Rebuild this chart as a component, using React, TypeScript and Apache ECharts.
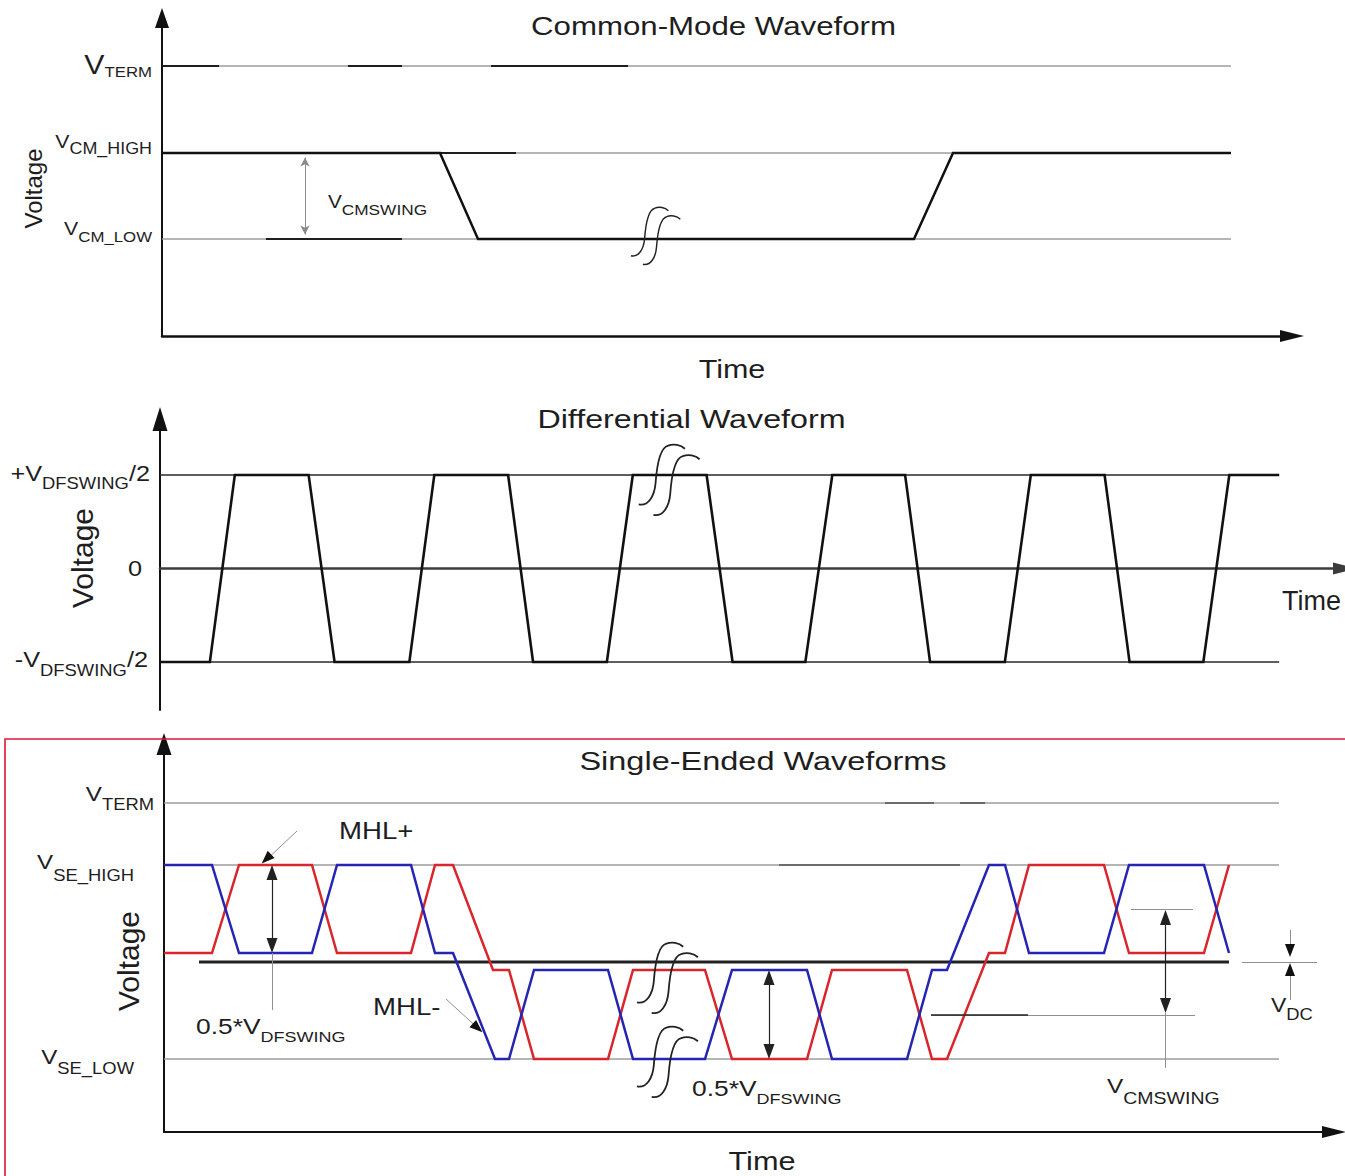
import React, { useEffect, useRef } from "react";
import * as echarts from "echarts";

const FONT = '"Liberation Sans", Arial, Helvetica, sans-serif';
const INK = "#1e1e1e";
const GRAY = "#9d9d9d";
const RED = "#d8262c";
const BLUE = "#2525b2";

// break mark ("two integral signs") used to show a time gap
const BREAK_PATH =
  "M -20 28 C -11 30 -5 20 -4 8 C -3 -6 0 -26 8 -28 C 13 -30 20 -29 24 -25 " +
  "M -6 38 C 3 40 9 30 10 18 C 11 4 14 -16 22 -18 C 27 -20 34 -19 38 -15";
echarts.graphic.registerShape("breakmark", echarts.graphic.extendPath(BREAK_PATH, {}));

// ======================= DATA =======================
// ---- Panel 1 : Common-Mode Waveform (time in UI, voltage in arbitrary V) ----
const cmLevelValues = [2.7, 1.83, 0.97];
const cmLevelSubs = ["TERM", "CM_HIGH", "CM_LOW"];
const cmRefEnd = 10.69;
const cmTime = [0, 2.78, 3.16, 7.52, 7.91, 10.69];
const cmVolt = [1.83, 1.83, 0.97, 0.97, 1.83, 1.83];
const cmDarkFrom = [0, 1.86, 3.29, 2.78, 1.04];
const cmDarkTo = [0.57, 2.4, 4.66, 3.54, 2.4];
const cmDarkAt = [2.7, 2.7, 2.7, 1.83, 0.97];
const cmSwingAt = 1.43;
const cmBreak = [4.86, 1.04];

// ---- Panel 2 : Differential Waveform ----
const dfLevelValues = [0.935, 0, -0.935];
const dfLabelMain = ["+V", "0", "-V"];
const dfLabelSub = ["DFSWING", "", "DFSWING"];
const dfLabelTail = ["/2", "", "/2"];
const dfRefEnd = 11.22;
const dfTime = [0, 0.5, 0.75, 1.49, 1.75, 2.5, 2.75, 3.49, 3.74, 4.48, 4.74, 5.48, 5.74, 6.47, 6.74, 7.47, 7.72, 8.47, 8.73, 9.47, 9.72, 10.46, 10.72, 11.22];
const dfVolt = [-0.935, -0.935, 0.935, 0.935, -0.935, -0.935, 0.935, 0.935, -0.935, -0.935, 0.935, 0.935, -0.935, -0.935, 0.935, 0.935, -0.935, -0.935, 0.935, 0.935, -0.935, -0.935, 0.935, 0.935];
const dfBreak = [5.01, 0.935];

// ---- Panel 3 : Single-Ended Waveforms ----
const seLevelValues = [3.29, 2.67, 0.73];
const seLevelSubs = ["TERM", "SE_HIGH", "SE_LOW"];
const seRefEnd = 11.15;
const seCmLevel = 1.7;
const seCmFrom = 0.35;
const seCmTo = 10.65;
const mhlPlusTime = [0, 0.48, 0.75, 1.48, 1.73, 2.47, 2.71, 2.89, 3.29, 3.45, 3.7, 4.44, 4.69, 5.41, 5.68, 6.43, 6.68, 7.43, 7.68, 7.83, 8.25, 8.41, 8.65, 9.4, 9.65, 10.4, 10.65];
const mhlPlusVolt = [1.79, 1.79, 2.67, 2.67, 1.79, 1.79, 2.67, 2.67, 1.62, 1.62, 0.73, 0.73, 1.62, 1.62, 0.73, 0.73, 1.62, 1.62, 0.73, 0.73, 1.79, 1.79, 2.67, 2.67, 1.79, 1.79, 2.67];
const mhlMinusTime = [0, 0.48, 0.75, 1.48, 1.73, 2.47, 2.71, 2.89, 3.31, 3.45, 3.7, 4.44, 4.69, 5.41, 5.68, 6.43, 6.68, 7.43, 7.68, 7.83, 8.25, 8.41, 8.65, 9.4, 9.65, 10.4, 10.65];
const mhlMinusVolt = [2.67, 2.67, 1.79, 1.79, 2.67, 2.67, 1.79, 1.79, 0.73, 0.73, 1.62, 1.62, 0.73, 0.73, 1.62, 1.62, 0.73, 0.73, 1.62, 1.62, 2.67, 2.67, 1.79, 1.79, 2.67, 2.67, 1.79];
const seDarkFrom = [6.15, 7.21, 7.96];
const seDarkTo = [7.96, 7.7, 8.21];
const seDarkAt = [2.67, 3.29, 3.29];
const seBreaks = [[4.94, 1.59], [4.94, 0.75]];

// ======================= LAYOUT =======================
type Seg = [[number, number], [number, number]];
const pair = (t: number[], v: number[]) => t.map((x, i) => [x, v[i]]);

const hline = (g: number, from: number, to: number, at: number, color: string, width: number, z = 2) => ({
  type: "line", xAxisIndex: g, yAxisIndex: g, data: [[from, at], [to, at]],
  symbol: "none", silent: true, z, lineStyle: { color, width }, emphasis: { disabled: true },
});
const wave = (g: number, data: number[][], color: string, width: number, z = 3) => ({
  type: "line", xAxisIndex: g, yAxisIndex: g, data, symbol: "none", silent: true, z,
  lineStyle: { color, width, join: "miter" }, emphasis: { disabled: true },
});
const marks = (g: number, segs: Seg[], color: string, width: number, symbol: string[], symbolSize: number[]) => ({
  type: "line", xAxisIndex: g, yAxisIndex: g, data: [[0, 0]], symbol: "none", silent: true,
  lineStyle: { width: 0 }, z: 4,
  markLine: {
    silent: true, symbol, symbolSize, animation: false,
    label: { show: false }, emphasis: { disabled: true },
    lineStyle: { color, width, type: "solid" },
    data: segs.map(([a, b]) => [{ coord: a }, { coord: b }]),
  },
});
const axis = (g: number, min: number, max: number, arrow: number[], color: string, width: number) => ({
  type: "value", gridIndex: g, min, max,
  axisLabel: { show: false }, axisTick: { show: false }, splitLine: { show: false },
  axisLine: { show: true, onZero: true, symbol: ["none", "triangle"], symbolSize: arrow, lineStyle: { color, width } },
});

function baseOption() {
  const series: any[] = [];
  // panel 1
  cmLevelValues.forEach((l) => series.push(hline(0, 0, cmRefEnd, l, GRAY, 1.5)));
  cmDarkFrom.forEach((f, i) => series.push(hline(0, f, cmDarkTo[i], cmDarkAt[i], INK, 1.8)));
  series.push(wave(0, pair(cmTime, cmVolt), "#111", 2.5));
  series.push(marks(0, [[[cmSwingAt, 1.785], [cmSwingAt, 1.015]]], "#8a8a8a", 1, ["arrow", "arrow"], [7, 9]));
  // panel 2
  [dfLevelValues[0], dfLevelValues[2]].forEach((l) => series.push(hline(1, 0, dfRefEnd, l, "#2a2a2a", 1.5)));
  series.push(wave(1, pair(dfTime, dfVolt), "#111", 2.6));
  // panel 3
  seLevelValues.forEach((l) => series.push(hline(2, 0, seRefEnd, l, GRAY, 1.5)));
  seDarkFrom.forEach((f, i) => series.push(hline(2, f, seDarkTo[i], seDarkAt[i], "#555", 1.6)));
  series.push(hline(2, seCmFrom, seCmTo, seCmLevel, "#222", 3));
  series.push(wave(2, pair(mhlPlusTime, mhlPlusVolt), RED, 2.5, 3));
  series.push(wave(2, pair(mhlMinusTime, mhlMinusVolt), BLUE, 2.5, 3));
  // double-headed measurement arrows
  series.push(marks(2, [
    [[1.08, 2.595], [1.08, 1.865]],
    [[6.05, 1.545], [6.05, 0.805]],
    [[10.015, 2.145], [10.015, 1.265]],
  ], "#222", 1.2, ["triangle", "triangle"], [11, 15]));
  // thin grey leader lines
  series.push(marks(2, [
    [[1.08, 1.79], [1.08, 1.22]],
    [[1.33, 3.01], [1.0, 2.70]],
    [[2.82, 1.33], [3.17, 1.01]],
    [[9.67, 2.23], [10.29, 2.23]],
    [[7.67, 1.17], [10.31, 1.17]],
    [[10.015, 1.19], [10.015, 0.64]],
    [[10.78, 1.7], [11.53, 1.7]],
    [[11.26, 2.02], [11.26, 1.815]],
    [[11.26, 1.32], [11.26, 1.625]],
  ], "#8f8f8f", 1, ["none", "none"], [1, 1]));
  series.push(marks(2, [[[7.67, 1.17], [8.64, 1.17]]], "#222", 1.5, ["none", "none"], [1, 1]));
  // single arrow heads
  series.push(marks(2, [
    [[1.067, 2.772], [1.024, 2.731]],
    [[3.106, 1.067], [3.136, 1.04]],
    [[11.26, 1.86], [11.26, 1.815]],
    [[11.26, 1.58], [11.26, 1.625]],
  ], "#111", 1, ["none", "triangle"], [10, 13]));

  return {
    animation: false,
    textStyle: { fontFamily: FONT },
    grid: [
      { left: 162, top: 18, width: 1130, height: 318 },
      { left: 160, top: 419, width: 1188, height: 291 },
      { left: 164, top: 744, width: 1170, height: 388 },
    ],
    xAxis: [
      axis(0, 0, 11.3, [12, 24], "#111", 2.5),
      axis(1, 0, 11.88, [12, 24], "#3c3c3c", 2.6),
      axis(2, 0, 11.7, [12, 24], "#111", 2.2),
    ],
    yAxis: [
      axis(0, 0, 3.18, [14, 20], "#111", 2),
      axis(1, -1.415, 1.495, [15, 24], "#111", 2),
      axis(2, 0, 3.88, [15, 22], "#111", 2),
    ],
    series,
  };
}

const txt = (x: number, y: number, s: string, size: number, o: any = {}) => ({
  type: "text", x, y, scaleX: o.sx ?? 1, rotation: o.rot ?? 0, z: 50, silent: true,
  style: { text: s, fontSize: size, fontFamily: FONT, fill: INK, align: o.align ?? "center", verticalAlign: "middle" },
});
const rtxt = (x: number, y: number, main: string, sub: string, tail: string, mSize: number, sSize: number, pad: number, align: string, sx: number) => ({
  type: "text", x, y, scaleX: sx, z: 50, silent: true,
  style: {
    text: `{m|${main}}` + (sub ? `{s|${sub}}` : "") + (tail ? `{m|${tail}}` : ""),
    align, verticalAlign: "middle", fill: INK, fontFamily: FONT, fontSize: mSize,
    rich: {
      m: { fontSize: mSize, fontFamily: FONT, fill: INK },
      s: { fontSize: sSize, fontFamily: FONT, fill: INK, padding: [pad, 0, 0, 0] },
    },
  },
});

// label layout (pixels) for level labels
const cmLabRight = 152, cmLabDy = [-1, -11.5, -11], cmLabM = [27, 19, 19], cmLabS = [15, 16, 15], cmLabPad = [14, 15, 18];
const dfLabRight = [150, 142, 148], dfLabDy = [-1.5, 0.5, -2];
const seLabRight = [154, 134, 134], seLabDy = [-8.5, -2.5, -1.5], seLabPad = [20, 25, 21];

function graphics(P: (g: number, t: number, v: number) => number[]) {
  const els: any[] = [];
  // Panel 1
  els.push(txt(713.5, 26.5, "Common-Mode Waveform", 25, { sx: 1.25 }));
  els.push(txt(732, 369, "Time", 25, { sx: 1.22 }));
  els.push(txt(33.5, 188.5, "Voltage", 24, { rot: Math.PI / 2 }));
  cmLevelValues.forEach((l, i) => {
    const y = P(0, 0, l)[1] + cmLabDy[i];
    els.push(rtxt(cmLabRight, y, "V", cmLevelSubs[i], "", cmLabM[i], cmLabS[i], cmLabPad[i], "right", 1.12));
  });
  els.push(rtxt(328, 201.5, "V", "CMSWING", "", 18, 15, 16, "left", 1.15));
  const b1 = P(0, cmBreak[0], cmBreak[1]);
  els.push({ type: "breakmark", x: b1[0], y: b1[1], scaleX: 0.85, scaleY: 0.85, z: 40, silent: true, style: { stroke: "#222", fill: "none", lineWidth: 1.7 } });

  // Panel 2
  els.push(txt(691.5, 419, "Differential Waveform", 25, { sx: 1.29 }));
  els.push(txt(1282, 601, "Time", 27, { sx: 1.0, align: "left" }));
  els.push(txt(82, 558, "Voltage", 30, { rot: Math.PI / 2 }));
  dfLevelValues.forEach((l, i) => {
    const y = P(1, 0, l)[1] + dfLabDy[i];
    els.push(rtxt(dfLabRight[i], y, dfLabelMain[i], dfLabelSub[i], dfLabelTail[i], 22, 16, 20, "right", 1.15));
  });
  const b2 = P(1, dfBreak[0], dfBreak[1]);
  els.push({ type: "breakmark", x: b2[0], y: b2[1], scaleX: 1.05, scaleY: 1.05, z: 40, silent: true, style: { stroke: "#222", fill: "none", lineWidth: 1.7 } });

  // Panel 3
  els.push({ type: "rect", z: 1, silent: true, shape: { x: 5, y: 739, width: 1400, height: 600 }, style: { fill: "none", stroke: "#e0163d", lineWidth: 1.6 } });
  els.push(txt(763, 761, "Single-Ended Waveforms", 25, { sx: 1.3 }));
  els.push(txt(762, 1161, "Time", 26, { sx: 1.18 }));
  els.push(txt(128.5, 961, "Voltage", 30, { rot: Math.PI / 2 }));
  seLevelValues.forEach((l, i) => {
    const y = P(2, 0, l)[1] + seLabDy[i];
    els.push(rtxt(seLabRight[i], y, "V", seLevelSubs[i], "", 21, 16, seLabPad[i], "right", 1.15));
  });
  els.push(txt(339, 831, "MHL+", 23, { sx: 1.2, align: "left" }));
  els.push(txt(373, 1007, "MHL-", 23, { sx: 1.2, align: "left" }));
  els.push(rtxt(196, 1026.5, "0.5*V", "DFSWING", "", 22, 15, 22, "left", 1.2));
  els.push(rtxt(692, 1088.5, "0.5*V", "DFSWING", "", 22, 15, 21, "left", 1.2));
  els.push(rtxt(1107, 1086.5, "V", "CMSWING", "", 20, 16, 25, "left", 1.22));
  els.push(rtxt(1271, 1005.5, "V", "DC", "", 20, 16, 17, "left", 1.15));
  seBreaks.forEach(([t, v]) => {
    const b = P(2, t, v);
    els.push({ type: "breakmark", x: b[0], y: b[1], scaleX: 1.05, scaleY: 1.05, z: 40, silent: true, style: { stroke: "#222", fill: "none", lineWidth: 1.7 } });
  });
  return els;
}

export default function App() {
  const ref = useRef<HTMLDivElement>(null);
  useEffect(() => {
    const chart = echarts.init(ref.current!, null, { renderer: "svg" });
    chart.setOption(baseOption() as any);
    const P = (g: number, t: number, v: number) =>
      chart.convertToPixel({ xAxisIndex: g, yAxisIndex: g } as any, [t, v]) as unknown as number[];
    chart.setOption({ graphic: { elements: graphics(P) } } as any);
    return () => chart.dispose();
  }, []);
  return (
    <div
      ref={ref}
      style={{ position: "fixed", left: 0, top: 0, width: 1345, height: 1176, background: "#fff" }}
    />
  );
}
